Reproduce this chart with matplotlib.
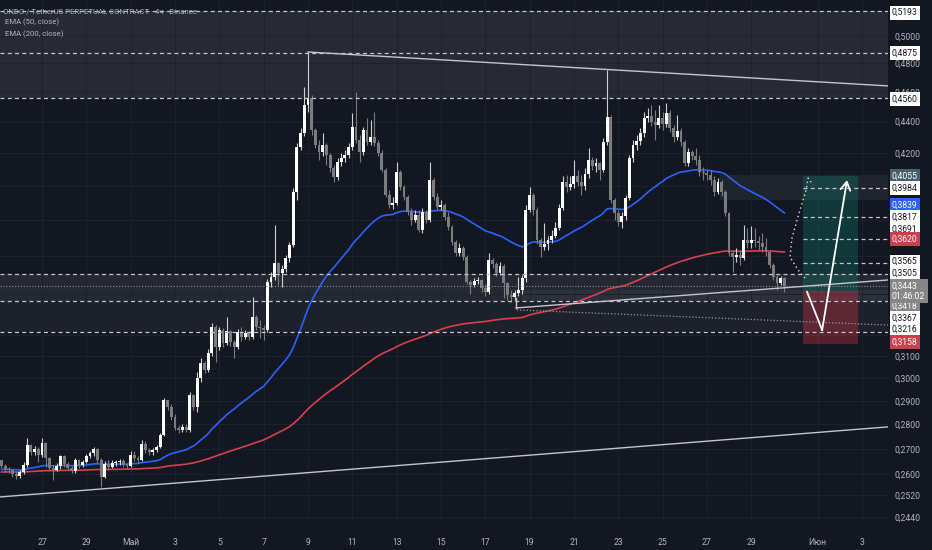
import matplotlib
matplotlib.use('Agg')
import matplotlib.pyplot as plt
import matplotlib.dates as mdates
import matplotlib.transforms as mtransforms
from matplotlib.ticker import FixedLocator, FuncFormatter, NullLocator, NullFormatter
import numpy as np
import pandas as pd

plt.rcParams['font.family'] = ['Roboto', 'DejaVu Sans']

# 4h candles, first one opens 25 Apr 04:00, opens = previous close
start_time = '2025-04-25 04:00'
first_open = 0.2655
closes = [
    0.2632, 0.2620, 0.2616, 0.2600, 0.2593, 0.2608, 0.2636, 0.2716, 0.2688, 0.2700,
    0.2676, 0.2724, 0.2663, 0.2624, 0.2616, 0.2632, 0.2672, 0.2639, 0.2624, 0.2612,
    0.2655, 0.2636, 0.2647, 0.2672, 0.2684, 0.2700, 0.2655, 0.2589, 0.2639, 0.2628,
    0.2643, 0.2647, 0.2651, 0.2636, 0.2632, 0.2676, 0.2663, 0.2655, 0.2720, 0.2696,
    0.2688, 0.2696, 0.2708, 0.2756, 0.2904, 0.2874, 0.2831, 0.2785, 0.2777, 0.2790,
    0.2777, 0.2926, 0.2874, 0.3001, 0.3069, 0.3037, 0.3115, 0.3238, 0.3143, 0.3224,
    0.3162, 0.3219, 0.3166, 0.3143, 0.3214, 0.3190, 0.3209, 0.3190, 0.3287, 0.3238,
    0.3233, 0.3224, 0.3464, 0.3490, 0.3563, 0.3510, 0.3531, 0.3590, 0.3660, 0.3962,
    0.4237, 0.4326, 0.4510, 0.4557, 0.4345, 0.4249, 0.4205, 0.4249, 0.4186, 0.4106,
    0.4051, 0.4143, 0.4168, 0.4186, 0.4237, 0.4364, 0.4281, 0.4205, 0.4345, 0.4268,
    0.4300, 0.4262, 0.4199, 0.4094, 0.3944, 0.3885, 0.3897, 0.4082, 0.3992, 0.3932,
    0.3845, 0.3799, 0.3828, 0.3743, 0.3845, 0.3799, 0.4033, 0.3932, 0.3873, 0.3885,
    0.3816, 0.3760, 0.3676, 0.3617, 0.3644, 0.3595, 0.3464, 0.3448, 0.3469, 0.3474,
    0.3433, 0.3413, 0.3579, 0.3558, 0.3510, 0.3547, 0.3459, 0.3398, 0.3387, 0.3408,
    0.3423, 0.3484, 0.3856, 0.3944, 0.3856, 0.3687, 0.3649, 0.3665, 0.3687, 0.3709,
    0.3754, 0.3868, 0.4021, 0.3992, 0.4009, 0.4057, 0.4021, 0.3998, 0.4069, 0.4155,
    0.4118, 0.4137, 0.4094, 0.4268, 0.4431, 0.3914, 0.3839, 0.3788, 0.3822, 0.3926,
    0.4168, 0.4249, 0.4275, 0.4326, 0.4424, 0.4437, 0.4398, 0.4378, 0.4424, 0.4385,
    0.4457, 0.4358, 0.4300, 0.4339, 0.4268, 0.4137, 0.4205, 0.4180, 0.4155, 0.4082,
    0.4075, 0.4063, 0.4033, 0.3962, 0.4021, 0.3962, 0.3839, 0.3617, 0.3595, 0.3606,
    0.3590, 0.3687, 0.3671, 0.3687, 0.3682, 0.3671, 0.3649, 0.3622, 0.3552, 0.3490,
    0.3459, 0.3484, 0.3443,
]
highs = [
    0.2655, 0.2639, 0.2628, 0.2620, 0.2608, 0.2616, 0.2647, 0.2744, 0.2720, 0.2712,
    0.2708, 0.2744, 0.2728, 0.2668, 0.2636, 0.2643, 0.2676, 0.2676, 0.2647, 0.2632,
    0.2663, 0.2659, 0.2655, 0.2680, 0.2692, 0.2708, 0.2704, 0.2663, 0.2651, 0.2655,
    0.2655, 0.2655, 0.2659, 0.2659, 0.2643, 0.2692, 0.2692, 0.2672, 0.2736, 0.2732,
    0.2704, 0.2704, 0.2716, 0.2764, 0.2913, 0.2904, 0.2887, 0.2844, 0.2798, 0.2802,
    0.2802, 0.2939, 0.2930, 0.3028, 0.3092, 0.3078, 0.3134, 0.3257, 0.3248, 0.3238,
    0.3233, 0.3286, 0.3224, 0.3176, 0.3228, 0.3238, 0.3224, 0.3219, 0.3387, 0.3297,
    0.3272, 0.3248, 0.3479, 0.3516, 0.3771, 0.3568, 0.3552, 0.3606, 0.3676, 0.3986,
    0.4262, 0.4358, 0.4634, 0.4882, 0.4578, 0.4358, 0.4281, 0.4326, 0.4262, 0.4199,
    0.4124, 0.4168, 0.4199, 0.4218, 0.4262, 0.4457, 0.4599, 0.4313, 0.4364, 0.4424,
    0.4411, 0.4464, 0.4281, 0.4218, 0.4106, 0.3974, 0.3932, 0.4143, 0.4094, 0.4003,
    0.3944, 0.3868, 0.3856, 0.3856, 0.3868, 0.3856, 0.4143, 0.4045, 0.3956, 0.3914,
    0.3897, 0.3845, 0.3771, 0.3687, 0.3671, 0.3654, 0.3606, 0.3474, 0.3484, 0.3490,
    0.3479, 0.3454, 0.3617, 0.3590, 0.3568, 0.3568, 0.3558, 0.3464, 0.3423, 0.3423,
    0.3490, 0.3500, 0.3885, 0.3992, 0.3956, 0.3873, 0.3698, 0.3782, 0.3709, 0.3743,
    0.3788, 0.3891, 0.4057, 0.4063, 0.4057, 0.4155, 0.4094, 0.4063, 0.4106, 0.4230,
    0.4174, 0.4168, 0.4143, 0.4294, 0.4753, 0.4444, 0.3926, 0.3856, 0.3845, 0.3944,
    0.4186, 0.4281, 0.4313, 0.4358, 0.4464, 0.4490, 0.4510, 0.4477, 0.4510, 0.4464,
    0.4524, 0.4477, 0.4378, 0.4444, 0.4358, 0.4281, 0.4230, 0.4218, 0.4230, 0.4186,
    0.4112, 0.4094, 0.4094, 0.4057, 0.4045, 0.4033, 0.3974, 0.3845, 0.3633, 0.3644,
    0.3633, 0.3771, 0.3754, 0.3765, 0.3754, 0.3709, 0.3726, 0.3698, 0.3633, 0.3563,
    0.3500, 0.3495, 0.3490,
]
lows = [
    0.2624, 0.2608, 0.2604, 0.2589, 0.2581, 0.2585, 0.2600, 0.2628, 0.2676, 0.2676,
    0.2647, 0.2668, 0.2628, 0.2616, 0.2577, 0.2612, 0.2620, 0.2628, 0.2616, 0.2604,
    0.2604, 0.2624, 0.2628, 0.2643, 0.2663, 0.2672, 0.2643, 0.2550, 0.2585, 0.2616,
    0.2624, 0.2632, 0.2636, 0.2628, 0.2624, 0.2628, 0.2651, 0.2643, 0.2651, 0.2684,
    0.2676, 0.2676, 0.2688, 0.2704, 0.2752, 0.2861, 0.2819, 0.2777, 0.2765, 0.2769,
    0.2769, 0.2769, 0.2861, 0.2853, 0.2983, 0.3023, 0.3028, 0.3101, 0.3073, 0.3129,
    0.3143, 0.3152, 0.3148, 0.3092, 0.3134, 0.3171, 0.3181, 0.3176, 0.3181, 0.3224,
    0.3185, 0.3176, 0.3214, 0.3438, 0.3474, 0.3448, 0.3438, 0.3516, 0.3568, 0.3649,
    0.3914, 0.4218, 0.4307, 0.4464, 0.4313, 0.4230, 0.4155, 0.4180, 0.4124, 0.4082,
    0.4021, 0.4033, 0.4118, 0.4143, 0.4168, 0.4218, 0.4262, 0.4143, 0.4186, 0.4249,
    0.4249, 0.4243, 0.4180, 0.4082, 0.3932, 0.3868, 0.3862, 0.3885, 0.3974, 0.3914,
    0.3828, 0.3771, 0.3788, 0.3732, 0.3726, 0.3782, 0.3788, 0.3914, 0.3856, 0.3856,
    0.3799, 0.3743, 0.3660, 0.3600, 0.3600, 0.3579, 0.3454, 0.3403, 0.3438, 0.3454,
    0.3413, 0.3393, 0.3403, 0.3537, 0.3495, 0.3500, 0.3382, 0.3372, 0.3362, 0.3372,
    0.3393, 0.3403, 0.3464, 0.3845, 0.3828, 0.3665, 0.3595, 0.3633, 0.3633, 0.3671,
    0.3698, 0.3743, 0.3856, 0.3962, 0.3974, 0.3986, 0.3998, 0.3944, 0.3974, 0.4045,
    0.4094, 0.4082, 0.4033, 0.4082, 0.4249, 0.3897, 0.3799, 0.3765, 0.3754, 0.3799,
    0.3914, 0.4143, 0.4218, 0.4249, 0.4300, 0.4398, 0.4372, 0.4281, 0.4358, 0.4345,
    0.4364, 0.4332, 0.4268, 0.4281, 0.4243, 0.4118, 0.4118, 0.4155, 0.4124, 0.4057,
    0.4033, 0.4033, 0.4003, 0.3938, 0.3950, 0.3938, 0.3822, 0.3600, 0.3516, 0.3568,
    0.3552, 0.3579, 0.3644, 0.3644, 0.3649, 0.3633, 0.3622, 0.3600, 0.3537, 0.3474,
    0.3423, 0.3448, 0.3413,
]

# EMA values just left of the first visible bar
ema50_seed = 0.2618
ema200_seed = 0.2608

# drawings (time, price)
levels_full = [0.5193, 0.4875, 0.4560, 0.3505, 0.3367, 0.3216]
levels_right = [0.3984, 0.3817, 0.3691, 0.3565]
levels_right_from = '2025-05-31 08:00'
last_price = 0.3443

zone_top = (0.4560, 0.5193)
zone_mid = (0.3367, 0.3505)
zone_low = (0.3216, 0.3367)
zone_right = (0.3914, 0.4065, '2025-05-27 14:00')
zone_sub = (0.3372, 0.3423, '2025-05-18 16:00')

top_trend_t = ['2025-05-09 00:00', '2025-06-04 04:10']
top_trend_p = [0.4882, 0.4641]
low_trend_t = ['2025-04-25 02:30', '2025-06-04 04:10']
low_trend_p = [0.2513, 0.2790]
mid_trend_t = ['2025-05-18 09:20', '2025-06-04 04:10']
mid_trend_p = [0.3332, 0.3474]
mid_tick_t = ['2025-05-18 09:20', '2025-05-18 09:20']
mid_tick_p = [0.3382, 0.3332]
dot_trend_t = ['2025-05-18 10:20', '2025-06-04 04:10']
dot_trend_p = [0.3322, 0.3248]

pos_start, pos_end = '2025-05-31 08:00', '2025-06-02 20:00'
pos_entry, pos_target, pos_stop = 0.3418, 0.4055, 0.3158

arrow_t = ['2025-05-31 12:30', '2025-06-01 04:50', '2025-06-02 07:50']
arrow_p = [0.3413, 0.3224, 0.4033]

alt_path_t = ['2025-05-31 10:20', '2025-05-31 02:50', '2025-05-30 18:00', '2025-05-30 20:10',
              '2025-05-31 01:40', '2025-05-31 07:10', '2025-05-31 11:30', '2025-05-31 13:40',
              '2025-05-31 19:00']
alt_path_p = [0.3484, 0.3526, 0.3595, 0.3698, 0.3799, 0.3897, 0.3974, 0.4045, 0.4003]

# right-hand price tags: value, style, vertical shift in px (+ = down)
tags = [
    (0.5193, 'white', 2), (0.4875, 'white', 0), (0.4560, 'white', 1),
    (0.4055, 'slate', 0), (0.3984, 'white', 0), (0.3839, 'blue', -8),
    (0.3817, 'white', 0), (0.3691, 'white', -10), (0.3620, 'red', -13),
    (0.3565, 'white', -1), (0.3505, 'white', -1), (0.3418, 'gray', 15),
    (0.3367, 'white', 17), (0.3216, 'white', -2), (0.3158, 'red', -2),
]
countdown = '01:46:02'

y_ticks = [0.2440, 0.2520, 0.2600, 0.2700, 0.2800, 0.2900, 0.3000, 0.3100, 0.3200,
           0.3400, 0.3600, 0.3800, 0.4000, 0.4200, 0.4400, 0.4600, 0.4800, 0.5000]
y_hidden = [0.3200, 0.3400, 0.3600, 0.3800, 0.4000]
x_tick_dates = ['2025-04-27', '2025-04-29', '2025-05-01', '2025-05-03', '2025-05-05',
                '2025-05-07', '2025-05-09', '2025-05-11', '2025-05-13', '2025-05-15',
                '2025-05-17', '2025-05-19', '2025-05-21', '2025-05-23', '2025-05-25',
                '2025-05-27', '2025-05-29', '2025-06-01', '2025-06-03']
x_tick_labels = ['27', '29', 'Май', '3', '5', '7', '9', '11', '13', '15', '17', '19',
                 '21', '23', '25', '27', '29', 'Июн', '3']

BG = '#131722'
TXT = '#b2b5be'
LINE = '#c3c6ce'


def t(s):
    return mdates.date2num(pd.to_datetime(s))


def ts(lst):
    return [t(s) for s in lst]


def ema(values, span, seed):
    a = 2.0 / (span + 1)
    e = seed
    out = []
    for v in values:
        e = e + a * (v - e)
        out.append(e)
    return np.array(out)


c = np.array(closes)
o = np.r_[first_open, c[:-1]]
h = np.maximum(np.array(highs), np.maximum(o, c))
l = np.minimum(np.array(lows), np.minimum(o, c))
times = pd.date_range(start_time, periods=len(c), freq='4h')
x = mdates.date2num(times.to_pydatetime())

fig = plt.figure(figsize=(9.32, 5.5), dpi=100, facecolor=BG)
ax = fig.add_axes([0, 30 / 550, 888 / 932, 520 / 550])
ax.set_facecolor(BG)
for s in ax.spines.values():
    s.set_visible(False)
ax.set_yscale('log')
ax.set_ylim(0.2428, 0.5276)
ax.set_xlim(t('2025-04-25 02:30'), t('2025-06-04 04:10'))

# grid
ax.yaxis.set_major_locator(FixedLocator(y_ticks))
ax.yaxis.set_minor_locator(NullLocator())
ax.yaxis.set_minor_formatter(NullFormatter())
ax.yaxis.set_major_formatter(FuncFormatter(
    lambda v, p: '' if any(abs(v - hv) < 1e-6 for hv in y_hidden) else f'{v:.4f}'.replace('.', ',')))
ax.yaxis.tick_right()
ax.set_xticks(ts(x_tick_dates))
ax.set_xticklabels(x_tick_labels)
ax.tick_params(axis='y', length=0, pad=5, labelsize=6.2, labelcolor=TXT)
ax.tick_params(axis='x', length=0, pad=13, labelsize=6.2, labelcolor=TXT)
ax.set_axisbelow(True)
ax.grid(True, color='#1e222d', lw=0.7)

# zones
x0, x1 = ax.get_xlim()
ax.axhspan(*zone_top, color='#9a9ca4', alpha=0.15, lw=0, zorder=0.5)
ax.axhspan(*zone_mid, color='#9a9ca4', alpha=0.13, lw=0, zorder=0.5)
ax.axhspan(*zone_low, color='#9a9ca4', alpha=0.08, lw=0, zorder=0.5)
ax.fill_between([t(zone_right[2]), x1], zone_right[0], zone_right[1],
                color='#9a9ca4', alpha=0.10, lw=0, zorder=0.5)
ax.fill_between([t(zone_sub[2]), x1], zone_sub[0], zone_sub[1],
                color='#9a9ca4', alpha=0.07, lw=0, zorder=0.5)

# position tool
ax.fill_between([t(pos_start), t(pos_end)], pos_entry, pos_target,
                color='#089981', alpha=0.25, lw=0, zorder=1)
ax.fill_between([t(pos_start), t(pos_end)], pos_stop, pos_entry,
                color='#f23645', alpha=0.3, lw=0, zorder=1)

# EMAs
ax.plot(x, ema(c, 200, ema200_seed), color='#d7414f', lw=1.2, zorder=2)
ax.plot(x, ema(c, 50, ema50_seed), color='#2962ff', lw=1.2, zorder=2)

# candles
up = c >= o
blo = np.minimum(o, c)
bhi = np.maximum(np.maximum(o, c), blo * 1.0015)
w = 0.13
ax.vlines(x[up], l[up], h[up], color='#d0d0d0', lw=0.8, zorder=3)
ax.vlines(x[~up], l[~up], h[~up], color='#7c7c7c', lw=0.8, zorder=3)
ax.bar(x[up], (bhi - blo)[up], bottom=blo[up], width=w, color='#ffffff', lw=0, zorder=3.1)
ax.bar(x[~up], (bhi - blo)[~up], bottom=blo[~up], width=w, color='#7c7c7c', lw=0, zorder=3.1)

# horizontal levels
for v in levels_full:
    ax.axhline(v, color=LINE, lw=0.9, ls=(0, (3.2, 2.6)), zorder=4)
for v in levels_right:
    ax.plot([t(levels_right_from), x1], [v, v], color=LINE, lw=0.9, ls=(0, (3.2, 2.6)), zorder=4)
ax.axhline(last_price, color='#8a8d96', lw=0.8, ls=(0, (1, 1.6)), zorder=4)

# trend lines
ax.plot(ts(top_trend_t), top_trend_p, color=LINE, lw=1.0, zorder=4)
ax.plot(ts(low_trend_t), low_trend_p, color=LINE, lw=1.0, zorder=4)
ax.plot(ts(mid_trend_t), mid_trend_p, color=LINE, lw=1.0, zorder=4)
ax.plot(ts(mid_tick_t), mid_tick_p, color=LINE, lw=1.0, zorder=4)
ax.plot(ts(dot_trend_t), dot_trend_p, color='#9598a1', lw=0.9, ls=(0, (1, 1.6)), zorder=4)

# projected paths
ax.plot(ts(alt_path_t), alt_path_p, color='#e0e0e0', lw=1.0, ls=(0, (1, 2.2)), zorder=5)
at = ts(arrow_t)
ax.plot(at[:2], arrow_p[:2], color='white', lw=1.3, zorder=5)
ax.annotate('', xy=(at[2], arrow_p[2]), xytext=(at[1], arrow_p[1]),
            arrowprops=dict(arrowstyle='->,head_length=0.6,head_width=0.35',
                            color='white', lw=1.3, shrinkA=0, shrinkB=0),
            zorder=5)

# price tags on the right scale
styles = {
    'white': ('#ffffff', '#131722'),
    'blue': ('#2962ff', '#ffffff'),
    'red': ('#cc3f4d', '#ffffff'),
    'gray': ('#868686', '#ffffff'),
    'slate': ('#46606d', '#ffffff'),
}
blend = mtransforms.blended_transform_factory(ax.transAxes, ax.transData)
for v, st, dy in tags:
    fc, tc = styles[st]
    tr = mtransforms.offset_copy(blend, fig=fig, x=4, y=-dy, units='dots')
    ax.text(1.0, v, f'{v:.4f}'.replace('.', ','), transform=tr, ha='left', va='center',
            fontsize=6.2, color=tc, clip_on=False, zorder=10,
            bbox=dict(boxstyle='square,pad=0.28', fc=fc, ec='none'))
tr = mtransforms.offset_copy(blend, fig=fig, x=4, y=-5, units='dots')
ax.text(1.0, last_price, f'{last_price:.4f}'.replace('.', ',') + '\n' + countdown,
        transform=tr, ha='left', va='center', fontsize=6.2, color='#ffffff',
        linespacing=1.2, clip_on=False, zorder=11,
        bbox=dict(boxstyle='square,pad=0.28', fc='#868686', ec='none'))

# legend
ax.text(3 / 888, 1 - 11 / 520, 'ONDO / TetherUS PERPETUAL CONTRACT · 4ч · Binance',
        transform=ax.transAxes, fontsize=5.6, color=TXT, va='center', ha='left', zorder=12)
ax.text(5 / 888, 1 - 22.5 / 520, 'EMA (50, close)', transform=ax.transAxes,
        fontsize=5.6, color=TXT, va='center', ha='left', zorder=12)
ax.text(5 / 888, 1 - 34 / 520, 'EMA (200, close)', transform=ax.transAxes,
        fontsize=5.6, color=TXT, va='center', ha='left', zorder=12)

fig.savefig('out.png', dpi=100, facecolor=BG)
